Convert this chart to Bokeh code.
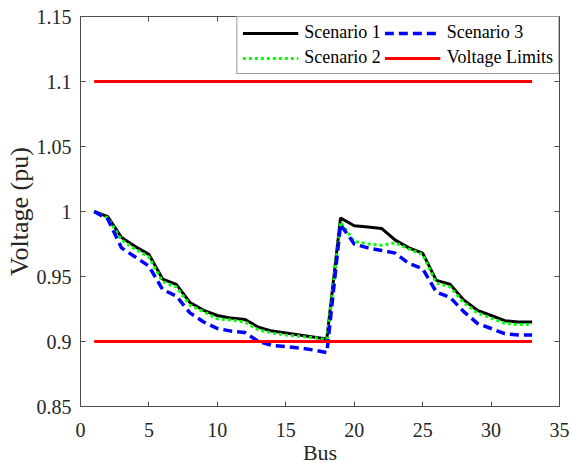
from bokeh.plotting import figure
from bokeh.models import Legend, LegendItem, FixedTicker, CustomJSTickFormatter, LinearAxis
from bokeh.embed import file_html
from bokeh.resources import INLINE

bus = list(range(1, 34))
scenario1 = [1.000, 0.996, 0.980, 0.973, 0.967, 0.948, 0.944, 0.930, 0.924, 0.920,
             0.918, 0.917, 0.911, 0.908, 0.9065, 0.905, 0.9035, 0.902,
             0.995, 0.989, 0.988, 0.987, 0.978, 0.972, 0.968, 0.947, 0.944,
             0.932, 0.924, 0.920, 0.916, 0.915, 0.915]
scenario2 = [1.000, 0.995, 0.978, 0.971, 0.965, 0.946, 0.942, 0.928, 0.923, 0.9175,
             0.9165, 0.915, 0.909, 0.9065, 0.905, 0.904, 0.903, 0.9015,
             0.992, 0.977, 0.975, 0.974, 0.976, 0.971, 0.967, 0.945, 0.942,
             0.930, 0.922, 0.918, 0.914, 0.913, 0.913]
scenario3 = [1.000, 0.994, 0.972, 0.965, 0.958, 0.940, 0.935, 0.922, 0.915, 0.910,
             0.908, 0.907, 0.900, 0.897, 0.896, 0.895, 0.8935, 0.8915,
             0.990, 0.975, 0.972, 0.970, 0.968, 0.960, 0.956, 0.938, 0.934,
             0.923, 0.914, 0.910, 0.906, 0.905, 0.905]
v_min = 0.9
v_max = 1.1
limit_bus = [1, 33]

x_ticks = [0, 5, 10, 15, 20, 25, 30, 35]
y_ticks = [0.85, 0.9, 0.95, 1.0, 1.05, 1.1, 1.15]

FONT = "Liberation Serif"
AX = "#4d4d4d"

p = figure(frame_width=479, frame_height=390, x_range=(0, 35), y_range=(0.85, 1.15),
           output_backend="svg", toolbar_location=None,
           min_border_left=80, min_border_right=12, min_border_top=16, min_border_bottom=57,
           background_fill_color="white", border_fill_color="white")
p.xgrid.visible = False
p.ygrid.visible = False
p.outline_line_color = AX
p.outline_line_width = 1

bottom_axis = p.below[0]
left_axis = p.left[0]

r1 = p.line(bus, scenario1, line_color="black", line_width=3)
r2 = p.line(bus, scenario2, line_color="#00ff00", line_width=3, line_dash="3 3")
r3 = p.line(bus, scenario3, line_color="#0000ff", line_width=3.5, line_dash="9 5")
r4 = p.line(limit_bus, [v_max, v_max], line_color="#ff0000", line_width=3)
p.line(limit_bus, [v_min, v_min], line_color="#ff0000", line_width=3)

fmt = CustomJSTickFormatter(code="return parseFloat(tick.toFixed(2)).toString();")
blank = CustomJSTickFormatter(code="return '';")

top_axis = LinearAxis(ticker=FixedTicker(ticks=x_ticks), formatter=blank)
right_axis = LinearAxis(ticker=FixedTicker(ticks=y_ticks), formatter=blank)
p.add_layout(top_axis, "above")
p.add_layout(right_axis, "right")

for ax in (bottom_axis, left_axis, top_axis, right_axis):
    ax.major_tick_in = 5
    ax.major_tick_out = 0
    ax.minor_tick_in = 0
    ax.minor_tick_out = 0
    ax.axis_line_color = AX
    ax.major_tick_line_color = AX
    ax.major_label_text_font = FONT
    ax.major_label_text_font_size = "20px"
    ax.major_label_text_color = "#262626"
    ax.axis_label_text_font = FONT
    ax.axis_label_text_font_style = "normal"
    ax.axis_label_text_color = "#262626"

for ax in (top_axis, right_axis):
    ax.major_label_text_font_size = "2px"
    ax.major_label_standoff = 0
    ax.axis_line_color = None

bottom_axis.ticker = FixedTicker(ticks=x_ticks)
left_axis.ticker = FixedTicker(ticks=y_ticks)
left_axis.formatter = fmt
bottom_axis.axis_label = "Bus"
left_axis.axis_label = "Voltage (pu)"
bottom_axis.axis_label_text_font_size = "22px"
left_axis.axis_label_text_font_size = "26px"
bottom_axis.major_label_standoff = 16
left_axis.major_label_standoff = 9
bottom_axis.axis_label_standoff = 0
left_axis.axis_label_standoff = 0

legend = Legend(items=[
    LegendItem(label="Scenario 1", renderers=[r1]),
    LegendItem(label="Scenario 2", renderers=[r2]),
    LegendItem(label="Scenario 3", renderers=[r3]),
    LegendItem(label="Voltage Limits", renderers=[r4]),
], location="top_right", ncols=2, margin=0,
    label_text_font=FONT, label_text_font_size="18px", label_text_color="black",
    glyph_width=56, glyph_height=18, label_height=18, spacing=4, padding=5,
    label_standoff=6, border_line_color="#333333", border_line_width=1,
    background_fill_alpha=1.0)
p.add_layout(legend, "center")

open("out.html", "w").write(file_html(p, INLINE))
